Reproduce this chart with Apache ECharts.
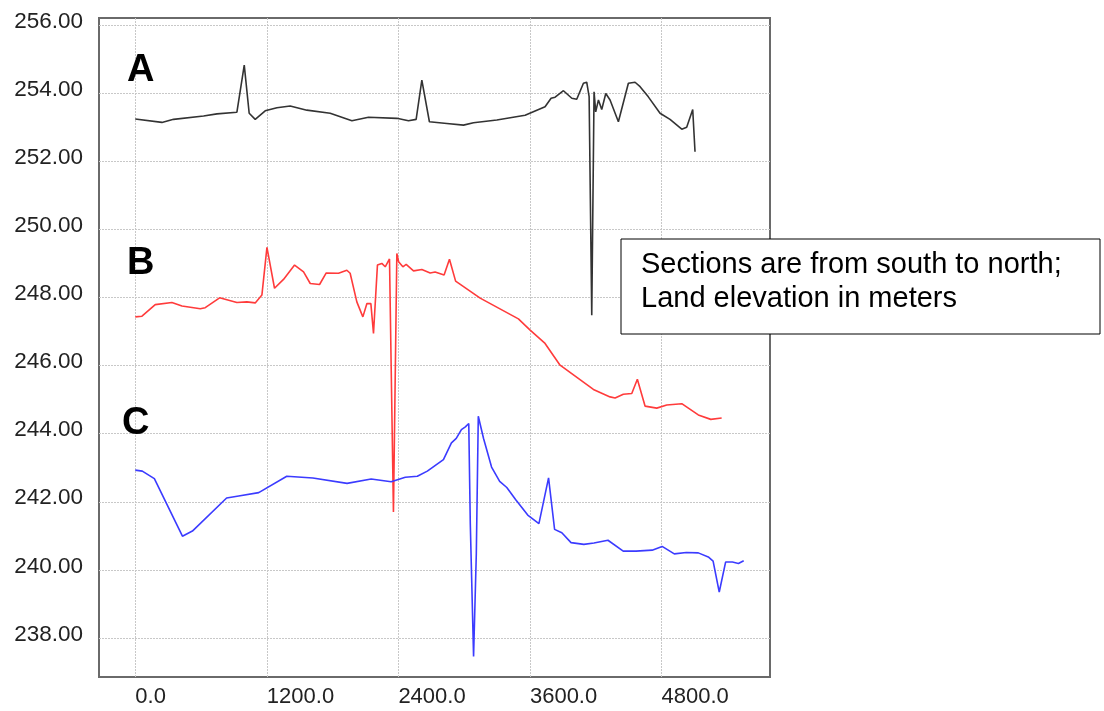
<!DOCTYPE html>
<html>
<head>
<meta charset="utf-8">
<script src="https://cdn.jsdelivr.net/npm/echarts@6/dist/echarts.min.js"></script>
<style>html,body{margin:0;padding:0;background:#fff;}#chart{width:1104px;height:711px;}</style>
</head>
<body>
<div id="chart"></div>
<script>
// Distance along section (m) and land elevation (m)
const sectionA = [[0,253.24],[243,253.14],[349,253.23],[623,253.33],[745,253.39],[927,253.44],[994,254.82],[1039,253.41],[1094,253.23],[1185,253.48],[1292,253.57],[1413,253.62],[1565,253.50],[1778,253.41],[1976,253.19],[2127,253.29],[2386,253.26],[2492,253.19],[2562,253.23],[2614,254.38],[2683,253.16],[2842,253.11],[2994,253.06],[3085,253.13],[3298,253.21],[3556,253.35],[3738,253.60],[3793,253.85],[3830,253.88],[3906,254.07],[3982,253.85],[4027,253.82],[4088,254.29],[4118,254.32],[4140,253.9],[4164,247.48],[4185,254.04],[4200,253.45],[4225,253.80],[4255,253.52],[4292,253.99],[4331,253.80],[4407,253.16],[4498,254.29],[4559,254.32],[4605,254.19],[4680,253.89],[4787,253.41],[4878,253.23],[4985,252.94],[5030,253.00],[5085,253.52],[5106,252.28]];
const sectionB = [[0,247.43],[61,247.45],[182,247.79],[334,247.85],[426,247.75],[593,247.67],[638,247.70],[769,247.99],[927,247.85],[1018,247.87],[1094,247.84],[1155,248.07],[1201,249.47],[1270,248.27],[1352,248.53],[1453,248.95],[1535,248.75],[1596,248.41],[1681,248.38],[1742,248.72],[1854,248.71],[1930,248.80],[1960,248.71],[2021,247.87],[2076,247.43],[2113,247.82],[2149,247.82],[2173,246.94],[2209,248.95],[2249,249.00],[2280,248.90],[2319,249.13],[2355,241.70],[2386,249.29],[2402,249.05],[2441,248.90],[2471,248.97],[2538,248.78],[2614,248.82],[2690,248.72],[2735,248.75],[2817,248.66],[2866,249.12],[2922,248.48],[3146,247.98],[3495,247.37],[3602,247.04],[3738,246.65],[3875,246.01],[4179,245.30],[4331,245.08],[4377,245.05],[4452,245.16],[4529,245.18],[4580,245.60],[4650,244.81],[4757,244.75],[4848,244.84],[4985,244.88],[5136,244.55],[5250,244.42],[5349,244.46]];
const sectionC = [[0,242.93],[64,242.90],[174,242.68],[430,240.99],[521,241.14],[833,242.11],[943,242.17],[1126,242.27],[1382,242.75],[1620,242.70],[1932,242.54],[2152,242.67],[2334,242.59],[2463,242.72],[2573,242.75],[2664,242.90],[2811,243.24],[2884,243.73],[2928,243.86],[2975,244.12],[3011,244.20],[3042,244.30],[3056,241.36],[3086,237.46],[3111,240.48],[3129,244.51],[3177,243.86],[3250,243.02],[3324,242.60],[3389,242.42],[3469,242.07],[3580,241.61],[3682,241.36],[3770,242.70],[3825,241.19],[3891,241.09],[3975,240.80],[4092,240.75],[4184,240.79],[4312,240.87],[4451,240.55],[4568,240.55],[4715,240.58],[4806,240.69],[4917,240.47],[5026,240.51],[5136,240.50],[5227,240.38],[5271,240.26],[5327,239.35],[5385,240.23],[5447,240.23],[5502,240.19],[5550,240.27]];
const xTicks = [0, 1200, 2400, 3600, 4800];
const yTicks = [238, 240, 242, 244, 246, 248, 250, 252, 254, 256];
const sectionNames = ['A', 'B', 'C'];
const noteLines = ['Sections are from south to north;', 'Land elevation in meters'];

const FONT = "'Liberation Sans', Arial, sans-serif";
const chart = echarts.init(document.getElementById('chart'), null, {renderer: 'canvas'});
const lineStyle = (c) => ({color: c, width: 1.6});
chart.setOption({
  animation: false,
  backgroundColor: '#ffffff',
  grid: {left: 99, right: 334, top: 18, bottom: 34, show: true, borderColor: '#6a6a6a', borderWidth: 2, backgroundColor: 'transparent'},
  xAxis: {
    type: 'value', min: -331, max: 5790,
    axisLine: {show: false},
    axisTick: {show: false, customValues: xTicks},
    splitLine: {show: true, lineStyle: {color: '#c8c8c8', type: [2, 1], width: 1}},
    axisLabel: {customValues: xTicks, formatter: v => v.toFixed(1), align: 'left', verticalAlign: 'middle', margin: 20, fontFamily: FONT, fontSize: 22, color: '#222'}
  },
  yAxis: {
    type: 'value', min: 236.855, max: 256.206,
    axisLine: {show: false},
    axisTick: {show: false, customValues: yTicks},
    splitLine: {show: true, lineStyle: {color: '#c8c8c8', type: [2, 1], width: 1}},
    axisLabel: {customValues: yTicks, formatter: v => v.toFixed(2), verticalAlign: 'bottom', lineHeight: 7, margin: 16, fontFamily: FONT, fontSize: 22.5, color: '#222'}
  },
  series: [
    {name: 'A', type: 'line', data: sectionA, showSymbol: false, lineStyle: lineStyle('#333333'), z: 3},
    {name: 'B', type: 'line', data: sectionB, showSymbol: false, lineStyle: lineStyle('#ff3b3b'), z: 3},
    {name: 'C', type: 'line', data: sectionC, showSymbol: false, lineStyle: lineStyle('#3b3bff'), z: 3}
  ],
  graphic: [
    {type: 'text', left: 127, top: 52, z: 20, style: {text: sectionNames[0], font: "bold 38px " + FONT, fill: '#000'}},
    {type: 'text', left: 127, top: 245, z: 20, style: {text: sectionNames[1], font: "bold 38px " + FONT, fill: '#000'}},
    {type: 'text', left: 122, top: 405, z: 20, style: {text: sectionNames[2], font: "bold 38px " + FONT, fill: '#000'}},
    {type: 'rect', shape: {x: 621, y: 239, width: 479, height: 95}, style: {fill: '#fff', stroke: '#000', lineWidth: 1}, z: 10},
    {type: 'text', x: 641, y: 248, z: 11, style: {text: noteLines.join('\n'), font: "29px " + FONT, lineHeight: 34, fill: '#000', textVerticalAlign: 'top'}}
  ]
});
</script>
</body>
</html>
